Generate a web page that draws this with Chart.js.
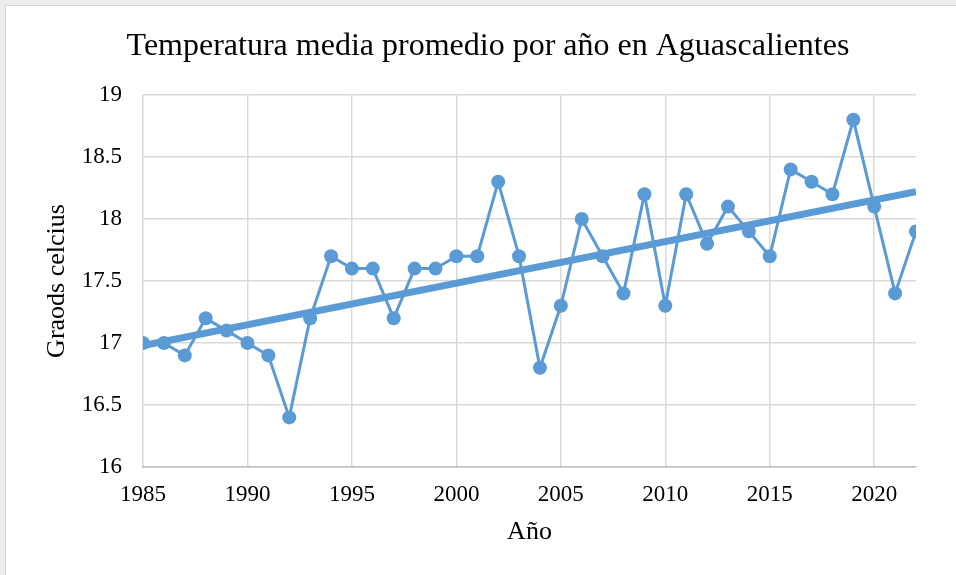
<!DOCTYPE html>
<html>
<head>
<meta charset="utf-8">
<script src="https://cdn.jsdelivr.net/npm/chart.js@4"></script>
<style>
  html, body { margin: 0; padding: 0; width: 956px; height: 575px; overflow: hidden; background: #ececec; }
  #frame { position: absolute; left: 5px; top: 5px; width: 964px; height: 570px; background: #fff; border-left: 1px solid #d4d4d4; border-top: 1px solid #d4d4d4; box-sizing: border-box; }
  #chart { position: absolute; left: 0; top: 0; }
</style>
</head>
<body>
<div id="frame"><canvas id="chart" width="964" height="570"></canvas></div>
<script>
const years = [1985, 1986, 1987, 1988, 1989, 1990, 1991, 1992, 1993, 1994,
               1995, 1996, 1997, 1998, 1999, 2000, 2001, 2002, 2003, 2004,
               2005, 2006, 2007, 2008, 2009, 2010, 2011, 2012, 2013, 2014,
               2015, 2016, 2017, 2018, 2019, 2020, 2021, 2022];
const temps = [17.0, 17.0, 16.9, 17.2, 17.1, 17.0, 16.9, 16.4, 17.2, 17.7,
               17.6, 17.6, 17.2, 17.6, 17.6, 17.7, 17.7, 18.3, 17.7, 16.8,
               17.3, 18.0, 17.7, 17.4, 18.2, 17.3, 18.2, 17.8, 18.1, 17.9,
               17.7, 18.4, 18.3, 18.2, 18.8, 18.1, 17.4, 17.9];
const trendYears = [1985, 2022];
const trendValues = [16.98, 18.22];
const yTicks = [16, 16.5, 17, 17.5, 18, 18.5, 19];

const azul = '#5b9bd5';
const serif = '"Liberation Serif", "Times New Roman", serif';

const ctx = document.getElementById('chart').getContext('2d');
new Chart(ctx, {
    type: 'line',
    data: {
        datasets: [{
            label: 'Tendencia',
            data: trendYears.map((x, i) => ({ x: x, y: trendValues[i] })),
            borderColor: azul,
            borderWidth: 7,
            pointRadius: 0,
            order: 0
        }, {
            label: 'Temperatura',
            data: years.map((x, i) => ({ x: x, y: temps[i] })),
            borderColor: azul,
            backgroundColor: azul,
            borderWidth: 3,
            pointRadius: 7,
            pointBorderWidth: 0,
            order: 1
        }]
    },
    options: {
        responsive: false,
        animation: false,
        layout: { padding: { top: 10, left: 54, right: 54, bottom: 24 } },
        plugins: {
            legend: { display: false },
            tooltip: { enabled: false },
            title: {
                display: true,
                text: 'Temperatura media promedio por año en Aguascalientes',
                color: '#000',
                font: { family: serif, size: 32, weight: 'normal' },
                padding: { top: 11, bottom: 29.6 }
            }
        },
        scales: {
            x: {
                type: 'linear',
                min: 1985,
                max: 2022,
                afterBuildTicks: function (scale) {
                    scale.ticks = years.filter(y => (y - 1985) % 5 === 0).map(v => ({ value: v }));
                },
                afterFit: function (scale) { scale.height = 85; },
                grid: { color: '#d9d9d9', lineWidth: 1.5, drawTicks: false },
                border: { color: '#bfbfbf', width: 1.5 },
                ticks: {
                    color: '#000',
                    padding: 14,
                    maxRotation: 0,
                    autoSkip: false,
                    font: { family: serif, size: 23 },
                    callback: v => String(v)
                },
                title: {
                    display: true,
                    text: 'Año',
                    color: '#000',
                    font: { family: serif, size: 26 }
                }
            },
            y: {
                min: 16,
                max: 19,
                afterBuildTicks: function (scale) {
                    scale.ticks = yTicks.map(v => ({ value: v }));
                },
                afterFit: function (scale) { scale.width = 83; },
                grid: { color: '#d9d9d9', lineWidth: 1.5, drawTicks: false },
                border: { display: false },
                ticks: {
                    color: '#000',
                    padding: 21,
                    font: { family: serif, size: 23 },
                    callback: v => String(v)
                },
                title: {
                    display: true,
                    text: 'Graods celcius',
                    color: '#000',
                    font: { family: serif, size: 26 },
                    padding: { top: -18, bottom: 4 }
                }
            }
        }
    }
});
</script>
</body>
</html>
